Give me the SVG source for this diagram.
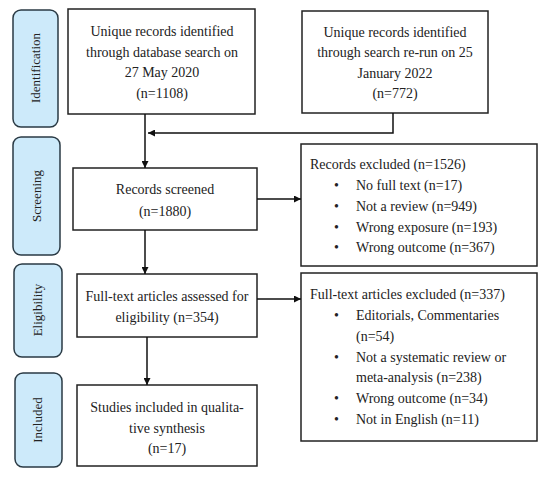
<svg xmlns="http://www.w3.org/2000/svg" width="550" height="477" viewBox="0 0 550 477">
<style>
text{font-family:"Liberation Serif","Times New Roman",serif;font-size:14px;fill:#222}
.c{text-anchor:middle}
.side rect{fill:#cdeafa;stroke:#2a3a44;stroke-width:1.5}
.side text{font-size:13px;text-anchor:middle}
.box rect{fill:#fff;stroke:#222;stroke-width:1.5}
.conn line,.conn polyline{stroke:#111;stroke-width:1.5;fill:none}
</style>
<defs>
<marker id="ah" viewBox="0 0 10 10" refX="10" refY="5" markerWidth="7" markerHeight="7" orient="auto" markerUnits="userSpaceOnUse"><path d="M0,0 L10,5 L0,10 z" fill="#111"/></marker>
</defs>
<rect width="550" height="477" fill="#fff"/>
<g id="side-identification" class="side"><rect x="13" y="10" width="45" height="117" rx="8"/><text transform="translate(40,68) rotate(-90)">Identification</text></g>
<g id="side-screening" class="side"><rect x="13" y="137" width="47" height="118" rx="8"/><text transform="translate(41,196) rotate(-90)">Screening</text></g>
<g id="side-eligibility" class="side"><rect x="14" y="264" width="48" height="93" rx="8"/><text transform="translate(42,310) rotate(-90)">Eligibility</text></g>
<g id="side-included" class="side"><rect x="15" y="373" width="47" height="94" rx="8"/><text transform="translate(42,420) rotate(-90)">Included</text></g>

<g id="box-db" class="box"><rect x="68" y="9" width="187" height="105"/>
<text class="c" x="162" y="36">Unique records identified</text>
<text class="c" x="162" y="57">through database search on</text>
<text class="c" x="162" y="77">27 May 2020</text>
<text class="c" x="162" y="98">(n=1108)</text></g>
<g id="box-rerun" class="box"><rect x="302" y="11" width="186" height="102"/>
<text class="c" x="395" y="37">Unique records identified</text>
<text class="c" x="395" y="57">through search re-run on 25</text>
<text class="c" x="395" y="78">January 2022</text>
<text class="c" x="395" y="98">(n=772)</text></g>
<g id="box-screened" class="box"><rect x="73" y="168" width="184" height="62"/>
<text class="c" x="165" y="194">Records screened</text>
<text class="c" x="165" y="216">(n=1880)</text></g>
<g id="box-excluded" class="box"><rect x="301" y="144" width="236" height="122"/>
<text x="310" y="169">Records excluded (n=1526)</text>
<text x="334" y="190">•</text><text x="356" y="190">No full text (n=17)</text>
<text x="334" y="211">•</text><text x="356" y="211">Not a review (n=949)</text>
<text x="334" y="232">•</text><text x="356" y="232">Wrong exposure (n=193)</text>
<text x="334" y="252">•</text><text x="356" y="252">Wrong outcome (n=367)</text></g>
<g id="box-fulltext" class="box"><rect x="77" y="274" width="180" height="63"/>
<text class="c" x="167" y="301">Full-text articles assessed for</text>
<text class="c" x="167" y="322">eligibility (n=354)</text></g>
<g id="box-ftexcluded" class="box"><rect x="301" y="273" width="236" height="168"/>
<text x="310" y="299">Full-text articles excluded (n=337)</text>
<text x="334" y="320">•</text><text x="356" y="320">Editorials, Commentaries</text>
<text x="356" y="341">(n=54)</text>
<text x="334" y="362">•</text><text x="356" y="362">Not a systematic review or</text>
<text x="356" y="382">meta-analysis (n=238)</text>
<text x="334" y="403">•</text><text x="356" y="403">Wrong outcome (n=34)</text>
<text x="334" y="424">•</text><text x="356" y="424">Not in English (n=11)</text></g>
<g id="box-included" class="box"><rect x="77" y="385" width="180" height="81"/>
<text class="c" x="167" y="412">Studies included in qualita-</text>
<text class="c" x="167" y="433">tive synthesis</text>
<text class="c" x="167" y="453">(n=17)</text></g>

<g id="connectors" class="conn">
<line x1="145" y1="114" x2="145" y2="168" marker-end="url(#ah)"/>
<polyline points="393,113 393,133 148,133" marker-end="url(#ah)"/>
<line x1="257" y1="199" x2="301" y2="199" marker-end="url(#ah)"/>
<line x1="145" y1="230" x2="145" y2="274" marker-end="url(#ah)"/>
<line x1="257" y1="299" x2="301" y2="299" marker-end="url(#ah)"/>
<line x1="147" y1="337" x2="147" y2="385" marker-end="url(#ah)"/>
</g>
</svg>
